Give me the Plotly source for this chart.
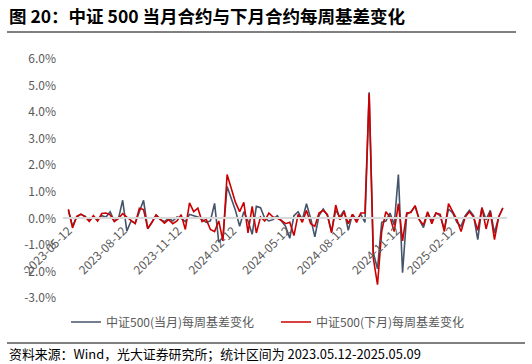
import pandas as pd
import plotly.graph_objects as go

# weekly dates
dates = pd.date_range("2023-05-12", periods=105, freq="7D")

# 中证500(当月)每周基差变化 (%)
basis_current = [
    0.30, -0.30, 0.05, 0.15, 0.08, -0.08, 0.06, -0.05, 0.10, 0.05,
    0.25, -0.10, 0.00, 0.68, -0.48, -0.10, -0.18, 0.25, 0.68, -0.40,
    -0.15, 0.12, -0.05, -0.12, 0.00, -0.10, 0.05, 0.00, -0.12, 0.15,
    0.10, 0.05, -0.05, -0.15, -0.10, 0.56, -0.90, -0.70, 1.20, 0.75,
    0.30, -0.30, 0.25, -0.10, -0.60, 0.45, 0.40, 0.00, -0.10, -0.05,
    0.10, -0.10, -0.30, -0.75, 0.10, 0.25, -0.05, 0.55, 0.00, -0.70,
    0.10, 0.35, 0.10, -0.50, 0.30, 0.05, 0.30, -0.45, 0.15, -0.05,
    0.15, -0.15, 4.75, -1.30, -1.90, -0.15, -0.10, 0.20, -0.25, 1.65,
    -2.05, 0.15, 0.25, 0.45, -0.05, -0.35, 0.20, -0.10, 0.20, 0.10,
    -0.40, 0.35, 0.20, -0.15, -0.30, 0.10, 0.30, 0.10, -0.80, 0.40,
    -0.05, 0.30, -0.55, 0.05, 0.40,
]

# 中证500(下月)每周基差变化 (%)
basis_next = [
    0.34, -0.36, 0.08, 0.16, 0.06, -0.12, 0.10, -0.10, 0.18, 0.20,
    0.13, -0.12, 0.00, 0.18, 0.05, -0.06, -0.20, 0.38, 0.33, -0.38,
    -0.16, 0.12, -0.04, -0.18, -0.05, -0.20, -0.10, 0.14, -0.42, 0.58,
    0.25, 0.38, -0.12, -0.04, -0.42, -0.50, -0.10, -0.85, 1.65, 1.10,
    0.60, 0.25, 0.60, -0.55, 0.45, -0.55, 0.05, -0.10, 0.20, 0.05,
    0.00, -0.08, -0.20, -0.15, -0.65, 0.15, -0.15, 0.30, -0.20, -0.30,
    0.20, 0.30, 0.15, -0.55, 0.50, -0.05, 0.25, -0.20, 0.15, -0.15,
    0.20, 0.20, 4.70, -1.50, -2.50, -0.50, 0.25, 0.05, -0.50, 0.55,
    -0.85, 0.20, 0.22, 0.48, -0.05, -0.25, 0.25, -0.20, 0.20, 0.15,
    -0.50, 0.55, 0.25, -0.05, -0.50, 0.05, 0.25, 0.05, -0.45, 0.40,
    -0.40, 0.25, -0.80, 0.05, 0.38,
]

tick_dates = ["2023-05-12", "2023-08-12", "2023-11-12", "2024-02-12",
              "2024-05-12", "2024-08-12", "2024-11-12", "2025-02-12"]
y_ticks = [-3, -2, -1, 0, 1, 2, 3, 4, 5, 6]
y_labels = [f"{v:.1f}%" for v in y_ticks]

title_text = "图 20：中证 500 当月合约与下月合约每周基差变化"
source_text = "资料来源：Wind，光大证券研究所；统计区间为 2023.05.12-2025.05.09"

FONT = "Noto Sans CJK SC"
GREY = "#595959"

fig = go.Figure()
fig.add_trace(go.Scatter(x=dates, y=basis_current, mode="lines",
                         name="中证500(当月)每周基差变化",
                         line=dict(color="#44546A", width=1.6)))
fig.add_trace(go.Scatter(x=dates, y=basis_next, mode="lines",
                         name="中证500(下月)每周基差变化",
                         line=dict(color="#CC0000", width=1.6)))

# plot area pixels: x 63..507, y 59..298
L, R, T, B = 63, 507, 59, 298
W, H = 532, 364
def px(x):
    return (x - L) / (R - L)
def py(y):
    return (B - y) / (B - T)

fig.update_layout(
    width=W, height=H,
    margin=dict(l=L, r=W - R, t=T, b=H - B),
    paper_bgcolor="white", plot_bgcolor="white",
    font=dict(family=FONT, size=12, color=GREY),
    showlegend=True,
    legend=dict(orientation="h", x=px(66), xanchor="left", y=py(322),
                yanchor="middle", font=dict(size=12, color=GREY),
                entrywidth=165, entrywidthmode="pixels",
                bgcolor="rgba(0,0,0,0)"),
    xaxis=dict(type="date", range=["2023-05-03", "2025-05-16"],
               tickvals=tick_dates, ticktext=tick_dates, tickangle=-45,
               anchor="free", position=py(218.3),
               showline=True, linecolor="#D9D9D9", linewidth=1.5,
               showgrid=False, zeroline=False, ticks="",
               tickfont=dict(size=12, color=GREY)),
    yaxis=dict(range=[-3, 6], tickvals=y_ticks, ticktext=y_labels,
               showgrid=False, zeroline=False, showline=False, ticks="",
               ticklabelstandoff=6,
               tickfont=dict(size=12, color=GREY)),
    annotations=[
        dict(text=f"<b>{title_text}</b>", xref="paper", yref="paper",
             x=px(7), y=py(16), xanchor="left", yanchor="middle",
             showarrow=False, font=dict(size=17.5, color="#000000")),
        dict(text=source_text, xref="paper", yref="paper",
             x=px(7), y=py(353), xanchor="left", yanchor="middle",
             showarrow=False, font=dict(size=12.9, color="#000000")),
    ],
    shapes=[
        dict(type="line", xref="paper", yref="paper", x0=px(7), x1=px(516),
             y0=py(32), y1=py(32), line=dict(color="#000000", width=1)),
        dict(type="line", xref="paper", yref="paper", x0=px(7), x1=px(525),
             y0=py(343), y1=py(343), line=dict(color="#000000", width=1)),
    ],
)

fig.write_html("out.html")
